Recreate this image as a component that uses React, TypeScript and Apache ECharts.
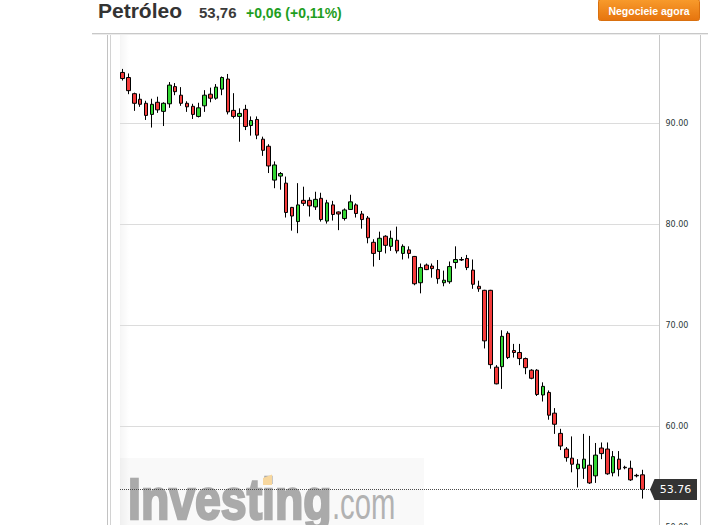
import React, { useEffect, useRef } from 'react';
import * as echarts from 'echarts';

// ---- data ----
const OPEN = [
  95.0, 94.5, 92.9, 92.35, 91.95, 90.85, 92.05, 91.15, 91.9, 93.6,
  92.75, 91.95, 91.65, 90.65, 91.7, 92.85, 92.45, 93.35, 94.35, 91.25,
  90.65, 91.35, 89.75, 90.35, 88.4, 87.7, 84.35, 84.75, 84.05, 81.65,
  80.25, 82.35, 82.35, 81.7, 82.55, 80.3, 81.9, 81.2, 80.55, 81.45,
  81.9, 81.0, 80.6, 78.2, 77.3, 78.8, 77.8, 78.4, 77.1, 77.45,
  76.8, 74.2, 75.95, 75.85, 75.5, 74.2, 74.3, 76.2, 76.5, 76.6,
  75.45, 73.85, 73.45, 73.45, 65.85, 65.9, 69.2, 67.5, 67.3, 66.7,
  65.55, 65.55, 63.1, 63.35, 61.3, 59.3, 57.75, 56.85, 55.8, 55.85,
  56.15, 55.1, 57.85, 57.75, 55.4, 56.75, 55.95, 55.85, 55.15, 55.2,
];
const CLOSE = [
  94.4, 93.2, 91.95, 91.85, 90.75, 91.85, 91.3, 91.95, 93.75, 93.1,
  91.95, 91.6, 90.85, 91.5, 92.75, 92.45, 93.55, 94.5, 91.1, 90.65,
  90.95, 89.65, 90.25, 88.8, 87.3, 85.75, 85.85, 85.0, 81.15, 80.8,
  81.9, 82.05, 81.8, 82.45, 80.45, 82.1, 80.95, 81.0, 81.4, 82.2,
  81.05, 80.45, 78.65, 77.1, 78.6, 77.9, 78.6, 77.35, 77.8, 77.1,
  74.1, 75.7, 75.5, 75.6, 74.6, 74.45, 75.8, 76.5, 76.45, 75.7,
  74.05, 73.6, 68.45, 66.1, 64.2, 68.9, 66.8, 67.3, 66.7, 65.8,
  64.75, 63.15, 63.95, 61.1, 60.2, 58.05, 56.9, 56.25, 56.25, 56.75,
  54.4, 57.15, 57.3, 55.3, 57.0, 55.75, 55.9, 54.7, 55.1, 53.76,
];
const LOW = [
  94.2, 92.85, 91.2, 91.6, 90.3, 89.55, 91.0, 89.7, 91.5, 92.75,
  91.7, 91.1, 90.4, 90.55, 91.1, 92.05, 92.3, 92.75, 90.85, 90.45,
  88.15, 89.3, 88.75, 88.4, 86.75, 85.05, 83.55, 83.4, 80.65, 79.35,
  79.1, 81.8, 80.75, 81.4, 80.25, 80.05, 80.35, 79.4, 80.35, 81.4,
  80.65, 79.55, 78.1, 75.8, 76.45, 77.1, 77.35, 77.1, 76.5, 76.6,
  73.95, 73.15, 75.45, 74.7, 74.1, 73.85, 74.1, 75.6, 76.35, 75.45,
  73.6, 73.3, 67.7, 65.7, 64.15, 63.7, 66.65, 66.8, 66.05, 65.15,
  64.65, 63.0, 62.45, 60.65, 59.25, 57.65, 56.5, 55.45, 53.95, 54.8,
  54.3, 54.4, 56.75, 55.2, 55.05, 55.05, 55.75, 54.6, 54.95, 52.85,
];
const HIGH = [
  95.35, 94.9, 93.0, 92.9, 92.2, 92.4, 92.6, 92.05, 94.05, 93.95,
  93.55, 92.15, 91.9, 92.0, 93.25, 93.5, 93.85, 94.6, 94.85, 92.95,
  91.45, 91.8, 90.65, 90.65, 88.65, 87.9, 86.2, 85.15, 84.7, 81.7,
  84.05, 83.7, 82.65, 83.2, 83.1, 82.4, 82.3, 81.25, 81.55, 82.9,
  82.05, 81.3, 80.8, 78.5, 79.25, 78.9, 79.35, 79.75, 78.0, 77.8,
  76.85, 76.1, 76.1, 76.1, 76.45, 75.4, 76.3, 77.8, 76.75, 76.95,
  76.5, 74.4, 73.5, 73.5, 66.05, 69.5, 69.4, 68.15, 68.15, 66.8,
  65.65, 65.65, 64.35, 63.55, 61.8, 59.75, 57.95, 59.0, 56.75, 59.25,
  59.05, 58.35, 58.4, 58.4, 57.55, 57.55, 56.1, 56.6, 55.3, 55.7,
];
const CATEGORIES = OPEN.map((_, i) => String(i + 1));
const Y_MIN = 50;
const Y_MAX = 100;
const Y_STEP = 10;
const LAST_PRICE = 53.76;
const TITLE = 'Petróleo';
const PRICE_TEXT = '53,76';
const CHANGE_TEXT = '+0,06 (+0,11%)';
const BUTTON_TEXT = 'Negocieie agora';

export default function App() {
  const ref = useRef<HTMLDivElement>(null);

  useEffect(() => {
    if (!ref.current) return;
    const chart = echarts.init(ref.current, null, { renderer: 'svg' });
    const candleData = OPEN.map((o, i) => [o, CLOSE[i], LOW[i], HIGH[i]]);
    const gridTop = 21.9;
    const gridHeight = 505.5;

    const option: any = {
      animation: false,
      backgroundColor: '#ffffff',
      grid: [
        { left: 120, right: 48.5, top: gridTop, height: gridHeight, outerBoundsMode: 'none', containLabel: false },
        { left: 119.78, width: 525.42, top: gridTop, height: gridHeight, outerBoundsMode: 'none', containLabel: false },
      ],
      xAxis: [
        { type: 'category', gridIndex: 0, data: CATEGORIES, show: false },
        { type: 'category', gridIndex: 1, data: CATEGORIES, show: false },
      ],
      yAxis: [
        {
          type: 'value',
          gridIndex: 0,
          position: 'right',
          min: Y_MIN,
          max: Y_MAX,
          interval: Y_STEP,
          axisLine: { show: true, lineStyle: { color: '#c8c8c8', width: 1 } },
          axisTick: { show: false },
          axisLabel: {
            formatter: (v: number) => v.toFixed(2),
            color: '#2a3838',
            fontFamily: 'DejaVu Sans',
            fontSize: 8,
            margin: 6,
            showMaxLabel: false,
          },
          splitLine: { show: true, lineStyle: { color: '#dcdcdc', width: 1 } },
        },
        {
          type: 'value',
          gridIndex: 1,
          min: Y_MIN,
          max: Y_MAX,
          show: false,
          splitLine: { show: false },
        },
      ],
      series: [
        {
          type: 'candlestick',
          xAxisIndex: 1,
          yAxisIndex: 1,
          data: candleData,
          barWidth: 4,
          silent: true,
          itemStyle: {
            color: '#33d633',
            color0: '#f43b3b',
            borderColor: '#000000',
            borderColor0: '#000000',
            borderWidth: 1,
          },
          markLine: {
            silent: true,
            z: 4,
            symbol: ['none', 'none'],
            label: { show: false },
            emphasis: { disabled: true },
            lineStyle: { type: [1, 1], color: '#4a4a4a', width: 1 },
            data: [[{ x: 120, yAxis: LAST_PRICE }, { x: 652, yAxis: LAST_PRICE }]],
          },
          markPoint: {
            silent: true,
            z: 10,
            symbol: 'path://M0,10.5L4.5,0L47,0L47,21L4.5,21Z',
            symbolSize: [47, 21],
            itemStyle: { color: '#333333' },
            label: {
              show: true,
              position: 'inside',
              formatter: LAST_PRICE.toFixed(2),
              color: '#ffffff',
              fontSize: 11,
              fontFamily: 'DejaVu Sans',
              offset: [2, 0],
            },
            data: [{ x: 673.5, yAxis: LAST_PRICE, value: LAST_PRICE }],
          },
        },
      ],
      graphic: [
        {
          type: 'rect',
          z: 0,
          silent: true,
          shape: { x: 120, y: 34, width: 9, height: 491 },
          style: {
            fill: new echarts.graphic.LinearGradient(0, 0, 1, 0, [
              { offset: 0, color: 'rgba(0,0,0,0.04)' },
              { offset: 1, color: 'rgba(0,0,0,0)' },
            ]),
          },
        },
        {
          type: 'rect',
          z: 0,
          silent: true,
          shape: { x: 120, y: 458, width: 304, height: 67 },
          style: { fill: 'rgba(0,0,0,0.025)' },
        },
        {
          type: 'text',
          z: 1,
          silent: true,
          x: 128,
          y: 499,
          scaleX: 0.8,
          style: {
            text: 'Investing',
            font: 'bold 58px "Liberation Sans"',
            fill: '#aaaaaa',
            stroke: '#aaaaaa',
            lineWidth: 2.5,
            align: 'left',
            verticalAlign: 'middle',
          },
        },
        {
          type: 'text',
          z: 1,
          silent: true,
          x: 332,
          y: 503.4,
          scaleX: 0.65,
          style: {
            text: '.com',
            font: '45px "Liberation Sans"',
            fill: '#b2b2b2',
            align: 'left',
            verticalAlign: 'middle',
          },
        },
        {
          type: 'polygon',
          z: 2,
          silent: true,
          shape: { points: [[263, 478], [272, 474.5], [272, 485], [263, 485]] },
          style: { fill: '#f7d79e' },
        },
        // borders
        {
          type: 'line', z: 5, silent: true,
          shape: { x1: 107.5, y1: 33, x2: 107.5, y2: 525 },
          style: { stroke: '#c2c2c2', lineWidth: 1 },
        },
        {
          type: 'line', z: 5, silent: true,
          shape: { x1: 110.5, y1: 33, x2: 110.5, y2: 525 },
          style: { stroke: '#d2d2d2', lineWidth: 1 },
        },
        {
          type: 'line', z: 5, silent: true,
          shape: { x1: 700.5, y1: 33, x2: 700.5, y2: 525 },
          style: { stroke: '#c8c8c8', lineWidth: 1 },
        },
        // header cover
        {
          type: 'rect', z: 99, silent: true,
          shape: { x: 0, y: 0, width: 708, height: 33 },
          style: { fill: '#ffffff' },
        },
        {
          type: 'line', z: 100, silent: true,
          shape: { x1: 92, y1: 33.5, x2: 708, y2: 33.5 },
          style: { stroke: '#c8c8c8', lineWidth: 1 },
        },
        {
          type: 'line', z: 100, silent: true,
          shape: { x1: 92, y1: 34.5, x2: 708, y2: 34.5 },
          style: { stroke: '#ececec', lineWidth: 1 },
        },
        {
          type: 'text', z: 101, silent: true, x: 98, y: 10,
          style: {
            text: TITLE, font: 'bold 21px "Liberation Sans"', fill: '#333333',
            align: 'left', verticalAlign: 'middle',
          },
        },
        {
          type: 'text', z: 101, silent: true, x: 199, y: 12.8,
          style: {
            text: PRICE_TEXT, font: 'bold 15px "Liberation Sans"', fill: '#3a3a3a',
            align: 'left', verticalAlign: 'middle',
          },
        },
        {
          type: 'text', z: 101, silent: true, x: 246, y: 13.1,
          style: {
            text: CHANGE_TEXT, font: 'bold 14px "Liberation Sans"', fill: '#1e9e1e',
            align: 'left', verticalAlign: 'middle',
          },
        },
        {
          type: 'rect', z: 101, silent: true,
          shape: { x: 598.5, y: -0.5, width: 101, height: 21, r: 2 },
          style: {
            fill: new echarts.graphic.LinearGradient(0, 0, 0, 1, [
              { offset: 0, color: '#f89b2c' },
              { offset: 1, color: '#e6740e' },
            ]),
            stroke: '#d9700f',
            lineWidth: 1,
          },
        },
        {
          type: 'text', z: 102, silent: true, x: 649, y: 10.5,
          style: {
            text: BUTTON_TEXT, font: 'bold 10.5px "Liberation Sans"', fill: '#ffffff',
            align: 'center', verticalAlign: 'middle',
          },
        },
      ],
    };

    chart.setOption(option);
    return () => {
      chart.dispose();
    };
  }, []);

  return (
    <div
      ref={ref}
      style={{ position: 'fixed', left: 0, top: 0, width: 708, height: 525 }}
    />
  );
}
